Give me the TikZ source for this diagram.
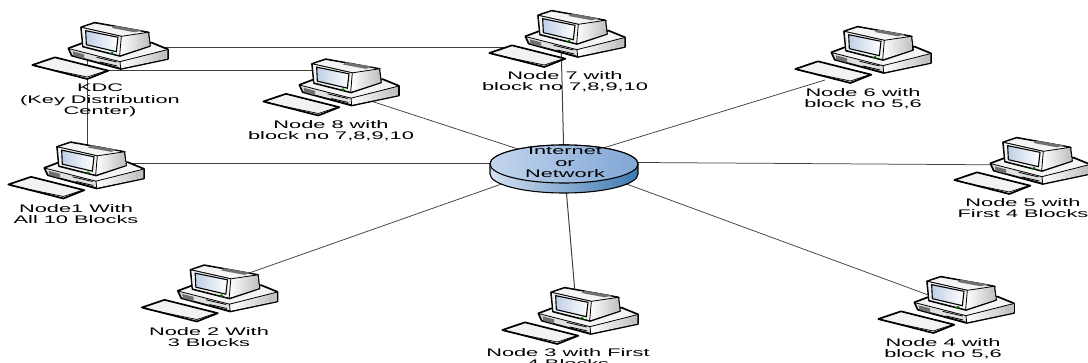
\documentclass[tikz,border=0pt]{standalone}
\usepackage{fontspec}
\setmainfont{Liberation Sans}
\definecolor{kbd}{HTML}{F2F2F2}
\definecolor{pcbody}{HTML}{F4F4F4}
\definecolor{pcside}{HTML}{BEBEBE}
\definecolor{pcdark}{HTML}{707070}
\definecolor{link}{HTML}{404040}
\definecolor{hubtopa}{HTML}{C3D5EC}
\definecolor{hubtopb}{HTML}{7FA6D6}
\definecolor{hubsidea}{HTML}{D4E1F1}
\definecolor{hubsideb}{HTML}{3F7AB3}
\definecolor{screena}{HTML}{FFFFFF}
\definecolor{screenb}{HTML}{BFCFE6}
\tikzset{
 pcbox/.style={draw=none,fill=none,minimum width=134pt,minimum height=55pt,inner sep=0pt},
 lbl/.style={align=center,font=\fontsize{11}{11.3}\selectfont,xscale=1.98,text=black,inner sep=0pt,anchor=north},
 conn/.style={draw=link,line width=0.75pt},
 pcline/.style={draw=black,line width=1.7pt,line join=round},
 pc/.pic={
  \begin{scope}[x=0.3333pt,y=-0.3333pt,shift={(-300,-154.5)}]
   % base
   \path[pcline,fill=pcbody] (205,145)--(245,130)--(455,128)--(504,148)--(504,177)--(362,207)--(215,167)--cycle;
   \path[left color=white,right color=pcside] (360,185)--(502,149)--(502,176)--(362,205)--cycle;
   \path[draw=black,line width=.8pt,fill=pcbody!92!black] (207,146)--(360,185)--(362,205)--(216,166)--cycle;
   \path[draw=black,line width=.8pt] (360,185)--(502,149);
   \path[fill=pcdark] (218,154)--(252,163)--(252,176)--(220,167)--cycle;
   \path[draw=black,line width=.8pt] (290,172)--(350,186) (300,186)--(352,198);
   \path[draw=pcside,line width=.7pt] (480,160)--(480,176) (486,158)--(486,174) (492,157)--(492,172);
   % monitor
   \path[pcline,fill=pcside] (243,82)--(284,68)--(445,97)--(450,138)--(360,168)--(249,140)--cycle;
   \path[left color=white,right color=pcside] (364,109)--(444,98)--(449,137)--(359,166)--cycle;
   \path[draw=black,line width=.8pt,fill=pcbody] (244,82)--(284,69)--(444,97)--(364,109)--cycle;
   \path[fill=pcdark] (345,77)--(425,91)--(405,97)--(335,84)--cycle;
   \path[draw=black,line width=.8pt,fill=pcbody] (244,82)--(364,109)--(359,167)--(249,139)--cycle;
   \path[draw=black,line width=1.1pt,left color=screenb,right color=screena] (257,92)--(354,112)--(349,155)--(259,134)--cycle;
   \path[fill=green!45!black] (336,160) circle (5);
   % keyboard
   \path[pcline,fill=kbd] (97,195)--(165,172)--(325,212)--(262,237)--cycle;
   \path[draw=black,line width=.7pt] (103,198)--(262,231)--(320,212);
  \end{scope}
 }
}
\begin{document}
\begin{tikzpicture}[x=1pt,y=-1pt]
\useasboundingbox (0,0) rectangle (1088,363);
\node[pcbox] (kdc) at (100,51.5) {};
\node[pcbox] (n1) at (76,171) {};
\node[pcbox] (n2) at (209.5,294) {};
\node[pcbox] (n3) at (570,316.5) {};
\node[pcbox] (n4) at (946,305.5) {};
\node[pcbox] (n5) at (1022,166.5) {};
\node[pcbox] (n6) at (863,55.5) {};
\node[pcbox] (n7) at (557,39.5) {};
\node[pcbox] (n8) at (331,88) {};
\node[draw=none,minimum width=148pt,minimum height=48pt,inner sep=0pt] (hub) at (564,164) {};
% connectors
\draw[conn] ([yshift=3.8pt]kdc.center) -- ([xshift=-47pt,yshift=-8.2pt]n7.center);
\draw[conn] ([yshift=-19pt]kdc.center) -- ([yshift=17.5pt]n8.center);
\draw[conn] ([xshift=-12.3pt]kdc.center) -- ([xshift=11.7pt]n1.center);
\draw[conn] ([yshift=8pt]n1.center) -- ([yshift=1pt]hub.center);
\draw[conn] (n8.center) -- (hub.center);
\draw[conn,line width=1pt] ([xshift=4pt]n7.center) -- (hub.center);
\draw[conn] ([xshift=-38pt,yshift=-24.5pt]n6.center) -- ([yshift=4pt]hub.center);
\draw[conn] ([yshift=1.5pt]n5.center) -- ([yshift=2pt]hub.center);
\draw[conn] ([yshift=4pt]n4.center) -- ([yshift=3pt]hub.center);
\draw[conn,line width=1pt] ([xshift=7pt]n3.center) -- (hub.center);
\draw[conn] ([yshift=7pt]n2.center) -- ([yshift=2pt]hub.center);
% computers
\pic at (kdc) {pc};
\pic at (n1) {pc};
\pic at (n2) {pc};
\pic at (n3) {pc};
\pic at (n4) {pc};
\pic at (n5) {pc};
\pic at (n6) {pc};
\pic at (n7) {pc};
\pic at (n8) {pc};
% hub
\path[draw=black,line width=1.1pt,left color=hubsidea,right color=hubsideb]
  (490,164) -- (490,174) arc[start angle=180,end angle=360,x radius=74pt,y radius=19pt] -- (638,164) arc[start angle=0,end angle=180,x radius=74pt,y radius=19pt] -- cycle;
\path[draw=black,line width=1.1pt,left color=hubtopa,right color=hubtopb]
  (564,164) ellipse[x radius=74pt,y radius=19pt];
\node[align=center,font=\fontsize{11}{11.3}\selectfont,xscale=1.98,inner sep=0pt] (hublbl) at (565,162.5) {Internet\\or\\Network};
% labels
\node[lbl] (lk) at (100,84) {KDC\\(Key Distribution\\Center)};
\node[lbl] (l1) at (76,204) {Node1 With\\All 10 Blocks};
\node[lbl] (l2) at (209,327) {Node 2 With\\3 Blocks};
\node[lbl] (l3) at (568,348.5) {Node 3 with First\\4 Blocks};
\node[lbl] (l4) at (943,338) {Node 4 with\\block no 5,6};
\node[lbl] (l5) at (1023,198.5) {Node 5 with\\First 4 Blocks};
\node[lbl] (l6) at (863,88) {Node 6 with\\block no 5,6};
\node[lbl] (l7) at (565,71) {Node 7 with\\block no 7,8,9,10};
\node[lbl] (l8) at (331,120) {Node 8 with\\block no 7,8,9,10};
\end{tikzpicture}
\end{document}
